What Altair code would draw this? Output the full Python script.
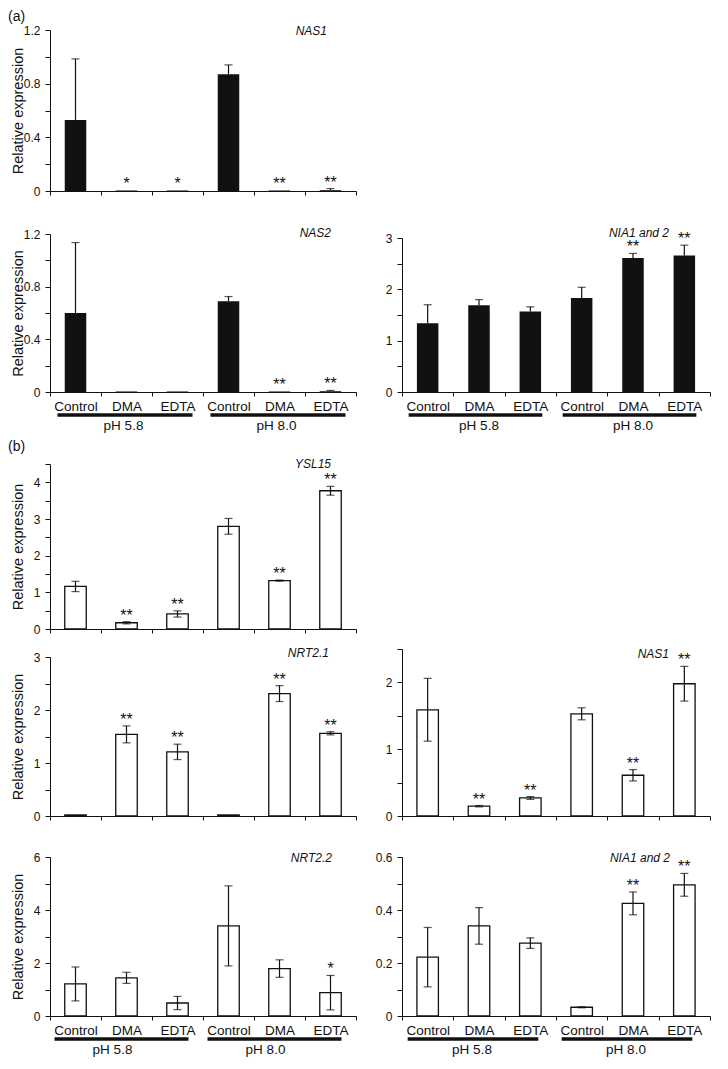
import altair as alt
import pandas as pd

FONT = "Liberation Sans"
INK = "#111111"

treatments = ["Control", "DMA", "EDTA"]
ph_groups = ["pH 5.8", "pH 8.0"]
keys = [f"{t}|{p}" for p in ph_groups for t in treatments]

# ---------------- (a) ----------------
a_nas1_vals = [0.53, 0.004, 0.004, 0.87, 0.004, 0.006]
a_nas1_err = [0.455, 0.0, 0.0, 0.07, 0.0, 0.012]
a_nas1_star = ["", "*", "*", "", "**", "**"]

a_nas2_vals = [0.60, 0.004, 0.004, 0.69, 0.004, 0.006]
a_nas2_err = [0.535, 0.0, 0.0, 0.035, 0.0, 0.006]
a_nas2_star = ["", "", "", "", "**", "**"]

a_nia_vals = [1.34, 1.69, 1.57, 1.83, 2.61, 2.66]
a_nia_err = [0.36, 0.11, 0.09, 0.21, 0.09, 0.20]
a_nia_star = ["", "", "", "", "**", "**"]

# ---------------- (b) ----------------
b_ysl15_vals = [1.16, 0.17, 0.41, 2.80, 1.32, 3.77]
b_ysl15_err = [0.14, 0.03, 0.085, 0.215, 0.015, 0.12]
b_ysl15_star = ["", "**", "**", "", "**", "**"]

b_nrt21_vals = [0.02, 1.54, 1.21, 0.02, 2.31, 1.56]
b_nrt21_err = [0.0, 0.16, 0.145, 0.0, 0.15, 0.03]
b_nrt21_star = ["", "**", "**", "", "**", "**"]

b_nas1_vals = [1.59, 0.147, 0.27, 1.53, 0.61, 1.98]
b_nas1_err = [0.47, 0.01, 0.02, 0.09, 0.085, 0.26]
b_nas1_star = ["", "**", "**", "", "**", "**"]

b_nrt22_vals = [1.21, 1.44, 0.49, 3.40, 1.79, 0.88]
b_nrt22_err = [0.64, 0.21, 0.25, 1.51, 0.33, 0.65]
b_nrt22_star = ["", "", "", "", "", "*"]

b_nia_vals = [0.222, 0.340, 0.275, 0.033, 0.425, 0.495]
b_nia_err = [0.112, 0.069, 0.02, 0.002, 0.043, 0.043]
b_nia_star = ["", "", "", "", "**", "**"]

WL, WR = 306, 308
GAP = 46

AX = dict(domainColor=INK, tickColor=INK, labelColor=INK, labelFont=FONT,
          grid=False, domainWidth=1, tickWidth=1)


def y_axis(ticks, major, fmt, H, rtop, show_title):
    maj = "[" + ",".join(repr(m) for m in major) + "]"
    expr = (f"datum.value == 0 ? '0' : (indexof({maj}, datum.value) >= 0 ? "
            f"format(datum.value, '{fmt}') : '')")
    kw = dict(values=ticks, labelExpr=expr, tickSize=5, labelPadding=5,
              labelFontSize=12, **AX)
    if show_title:
        kw.update(titleX=-32, titleY=(H + rtop) / 2, titleAngle=270,
                  titleAlign="center", titleBaseline="middle", titleFont=FONT,
                  titleFontSize=14.5, titleFontWeight="normal", titleColor=INK)
    return alt.Axis(**kw)


def panel(name, vals, errs, stars, *, W, H, rtop, domain, ticks, major, fmt,
          filled, ytitle, xlabels, title_x, title_dy, ph_dx=0, ul=(-20, 10),
          letter=None, letter_y=0):
    df = pd.DataFrame({"key": keys, "value": vals, "err": errs, "star": stars})
    df["hi"] = df["value"] + df["err"]
    df["lo"] = df["value"] if filled else df["value"] - df["err"]

    xs = alt.Scale(domain=keys, paddingInner=0, paddingOuter=0)
    xaxis = alt.Axis(tickBand="extent", labels=xlabels,
                     labelExpr="split(datum.label, '|')[0]", labelAngle=0,
                     tickSize=4, labelPadding=3, labelFontSize=13.5, **AX)

    def X(f):
        return alt.X(f, type="nominal", scale=xs, axis=xaxis, title=None)

    ys = alt.Scale(domain=domain, range=[H, rtop], nice=False, zero=True)
    yax = y_axis(ticks, major, fmt, H, rtop, ytitle)
    ttl = "Relative expression" if ytitle else None

    def Y(f):
        return alt.Y(f, type="quantitative", scale=ys, axis=yax, title=ttl)

    base = alt.Chart(df)
    if filled:
        bars = base.mark_bar(width=21.5, color=INK)
    else:
        bars = base.mark_bar(width=21.5, fill="white", stroke=INK, strokeWidth=1.3)
    bars = bars.encode(x=X("key"), y=Y("value"))

    eb = base.transform_filter("datum.err > 0")
    err_rule = eb.mark_rule(color=INK, strokeWidth=1.2).encode(
        x=X("key"), y=Y("lo"), y2=alt.Y2("hi"))
    cap_hi = eb.mark_tick(color=INK, size=8, thickness=1.2).encode(
        x=X("key"), y=Y("hi"))
    layers = [bars, err_rule, cap_hi]
    if not filled:
        cap_lo = eb.mark_tick(color=INK, size=8, thickness=1.2).encode(
            x=X("key"), y=Y("lo"))
        layers.append(cap_lo)

    st = base.transform_filter("datum.star != ''").mark_text(
        fontSize=16, baseline="alphabetic", dy=-1, color=INK, font=FONT).encode(
        x=X("key"), y=Y("hi"), text="star:N")
    layers.append(st)

    tdf = pd.DataFrame({"t": [name]})
    title = alt.Chart(tdf).mark_text(
        align="right", baseline="middle", fontStyle="italic", fontSize=12,
        font=FONT, color=INK).encode(
        text="t:N", x=alt.value(title_x), y=alt.value(rtop + title_dy))
    layers.append(title)

    if xlabels:
        phdf = pd.DataFrame({"ph": ph_groups, "first": keys[0::3],
                             "mid": keys[1::3], "last": keys[2::3]})
        uline = alt.Chart(phdf).mark_rule(
            strokeWidth=3.5, color=INK, xOffset=ul[0], x2Offset=ul[1]).encode(
            x=X("first"), x2=alt.X2("last"), y=alt.value(H + 23))
        phl = alt.Chart(phdf).mark_text(
            fontSize=13.5, baseline="middle", dx=ph_dx, color=INK, font=FONT).encode(
            x=X("mid"), y=alt.value(H + 34), text="ph:N")
        layers += [uline, phl]

    if letter:
        ldf = pd.DataFrame({"t": [letter]})
        lt = alt.Chart(ldf).mark_text(
            align="left", baseline="middle", fontSize=14, font=FONT, color=INK).encode(
            text="t:N", x=alt.value(-42), y=alt.value(letter_y))
        layers.append(lt)

    return alt.layer(*layers).properties(width=W, height=H)


def blank(W):
    return alt.Chart(pd.DataFrame({"v": [0]})).mark_point(opacity=0).encode(
        x=alt.X("v:Q", axis=None), y=alt.Y("v:Q", axis=None)).properties(
        width=W, height=10)


t012 = [0, 0.2, 0.4, 0.6, 0.8, 1.0, 1.2]
t3 = [0, 0.5, 1, 1.5, 2, 2.5, 3]

a1 = panel("NAS1", a_nas1_vals, a_nas1_err, a_nas1_star, W=WL, H=161, rtop=0,
           domain=[0, 1.2], ticks=t012, major=[0.4, 0.8, 1.2], fmt=".1f",
           filled=True, ytitle=True, xlabels=False, title_x=277, title_dy=1,
           letter="(a)", letter_y=-13)
a2 = panel("NAS2", a_nas2_vals, a_nas2_err, a_nas2_star, W=WL, H=201, rtop=43,
           domain=[0, 1.2], ticks=t012, major=[0.4, 0.8, 1.2], fmt=".1f",
           filled=True, ytitle=True, xlabels=True, title_x=281, title_dy=-1,
           ph_dx=-3, ul=(-18, 15))
a3 = panel("NIA1 and 2", a_nia_vals, a_nia_err, a_nia_star, W=WR, H=201, rtop=47,
           domain=[0, 3], ticks=t3, major=[1, 2, 3], fmt="d",
           filled=True, ytitle=False, xlabels=True, title_x=267, title_dy=-5,
           ph_dx=0, ul=(-19, 12))
b1 = panel("YSL15", b_ysl15_vals, b_ysl15_err, b_ysl15_star, W=WL, H=237, rtop=72,
           domain=[0, 4.5], ticks=[0, 0.5, 1, 1.5, 2, 2.5, 3, 3.5, 4, 4.5],
           major=[1, 2, 3, 4], fmt="d", filled=False, ytitle=True, xlabels=False,
           title_x=281, title_dy=0, letter="(b)", letter_y=55)
b2l = panel("NRT2.1", b_nrt21_vals, b_nrt21_err, b_nrt21_star, W=WL, H=187, rtop=28,
            domain=[0, 3], ticks=t3, major=[1, 2, 3], fmt="d", filled=False,
            ytitle=True, xlabels=False, title_x=279, title_dy=-4)
b2r = panel("NAS1", b_nas1_vals, b_nas1_err, b_nas1_star, W=WR, H=187, rtop=20,
            domain=[0, 2.5], ticks=[0, 0.5, 1, 1.5, 2, 2.5], major=[1, 2], fmt="d",
            filled=False, ytitle=False, xlabels=False, title_x=267, title_dy=5)
b3l = panel("NRT2.2", b_nrt22_vals, b_nrt22_err, b_nrt22_star, W=WL, H=200, rtop=41,
            domain=[0, 6], ticks=[0, 1, 2, 3, 4, 5, 6], major=[2, 4, 6], fmt="d",
            filled=False, ytitle=True, xlabels=True, title_x=282, title_dy=1,
            ph_dx=-14, ul=(-21, 11))
b3r = panel("NIA1 and 2", b_nia_vals, b_nia_err, b_nia_star, W=WR, H=200, rtop=41,
            domain=[0, 0.6], ticks=[0, 0.1, 0.2, 0.3, 0.4, 0.5, 0.6],
            major=[0.2, 0.4, 0.6], fmt=".1f", filled=False, ytitle=False,
            xlabels=True, title_x=268, title_dy=1, ph_dx=-7, ul=(-20, 8))

chart = alt.concat(
    a1, blank(WR), a2, a3, b1, blank(WR), b2l, b2r, b3l, b3r,
    columns=2, spacing={"row": 0, "column": GAP}, bounds="flush", align="each",
).properties(padding={"top": 2, "left": 0, "right": 0, "bottom": 0}).configure(
    font=FONT, view=alt.ViewConfig(stroke=None))

chart.save("out.html", embed_options={"renderer": "svg", "actions": False})
